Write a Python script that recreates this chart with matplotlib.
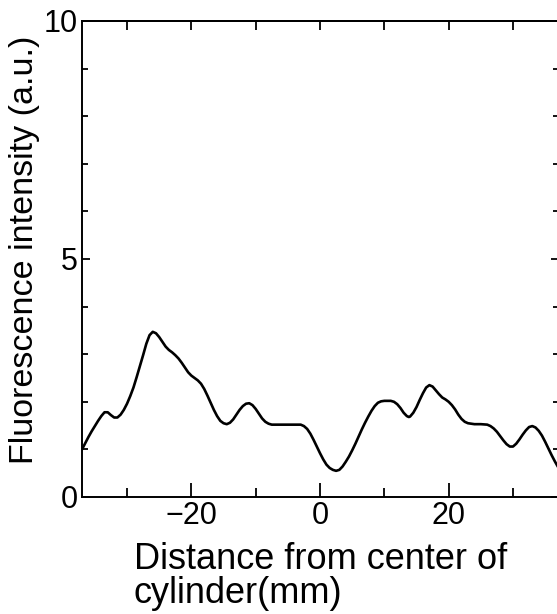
import matplotlib
matplotlib.use("Agg")
import matplotlib.pyplot as plt
from matplotlib.ticker import MultipleLocator, FixedLocator, NullFormatter

# Data
distance_mm = [-37, -36.5, -36, -35.5, -35, -34.5, -34, -33.5, -33, -32.5, -32, -31.5, -31,
               -30.5, -30, -29.5, -29, -28.5, -28, -27.5, -27, -26.5, -26, -25.5, -25,
               -24.5, -24, -23.5, -23, -22.5, -22, -21.5, -21, -20.5, -20, -19.5, -19,
               -18.5, -18, -17.5, -17, -16.5, -16, -15.5, -15, -14.5, -14, -13.5, -13,
               -12.5, -12, -11.5, -11, -10.5, -10, -9.5, -9, -8.5, -8, -7.5, -7, -3,
               -2.5, -2, -1.5, -1, -0.5, 0, 0.5, 1, 1.5, 2, 2.5, 3, 3.5, 4, 4.5, 5,
               5.5, 6, 6.5, 7, 7.5, 8, 8.5, 9, 9.5, 10, 11, 11.5, 12, 12.5, 13, 13.5,
               13.8, 14, 14.5, 15, 15.5, 16, 16.5, 17, 17.5, 18, 18.5, 19, 19.5, 20,
               20.5, 21, 21.5, 22, 22.5, 23, 24, 25, 26, 26.5, 27, 27.5, 28, 28.5, 29,
               29.5, 30, 30.5, 31, 31.5, 32, 32.5, 33, 33.5, 34, 34.5, 35, 35.5, 36,
               36.5, 37]
intensity = [1.00, 1.13, 1.26, 1.38, 1.49, 1.60, 1.70, 1.78, 1.78, 1.72, 1.67, 1.67, 1.73,
             1.83, 1.96, 2.12, 2.30, 2.52, 2.75, 2.98, 3.22, 3.40, 3.47, 3.44, 3.36,
             3.26, 3.16, 3.09, 3.04, 2.98, 2.91, 2.82, 2.72, 2.62, 2.55, 2.50, 2.45,
             2.38, 2.27, 2.13, 1.98, 1.83, 1.70, 1.60, 1.55, 1.53, 1.56, 1.63, 1.73,
             1.83, 1.91, 1.96, 1.97, 1.93, 1.85, 1.75, 1.65, 1.58, 1.54, 1.52, 1.52, 1.52,
             1.49, 1.43, 1.33, 1.20, 1.06, 0.92, 0.79, 0.68, 0.61, 0.57, 0.55, 0.57, 0.64, 0.74, 0.85, 0.98,
             1.12, 1.27, 1.42, 1.56, 1.69, 1.81, 1.91, 1.98, 2.01, 2.02, 2.02, 2.00, 1.95, 1.87, 1.77, 1.70,
             1.68, 1.69, 1.77, 1.89, 2.04, 2.18, 2.30, 2.35, 2.32, 2.24, 2.16, 2.09, 2.05, 2.00,
             1.93, 1.84, 1.73, 1.64, 1.58, 1.55, 1.53, 1.53, 1.52, 1.49, 1.44, 1.37, 1.28, 1.19, 1.11,
             1.06, 1.06, 1.12, 1.21, 1.31, 1.40, 1.47, 1.49, 1.46, 1.39, 1.29, 1.16, 1.02, 0.88,
             0.75, 0.63]

x_major_ticks = [-20, 0, 20]
x_major_labels = ["\u221220", "0", "20"]
x_minor_ticks = [-30, -10, 10, 30]
y_major_ticks = [0, 5, 10]
y_major_labels = ["0", "5", "10"]

plt.rcParams['font.family'] = ['Liberation Sans', 'DejaVu Sans']

W, H = 557, 614
fig = plt.figure(figsize=(W / 100, H / 100), dpi=100)
ax = fig.add_axes([82 / W, 117 / H, (559 - 82) / W, 476 / H])

ax.plot(distance_mm, intensity, color='black', linewidth=1.9,
        solid_joinstyle='round', solid_capstyle='round')

ax.set_xlim(-37, 37.15)
ax.set_ylim(0, 10)

for s in ax.spines.values():
    s.set_linewidth(1.4)

ax.xaxis.set_major_locator(FixedLocator(x_major_ticks))
ax.set_xticklabels(x_major_labels)
ax.xaxis.set_minor_locator(FixedLocator(x_minor_ticks))
ax.yaxis.set_major_locator(FixedLocator(y_major_ticks))
ax.set_yticklabels(y_major_labels)
ax.yaxis.set_minor_locator(MultipleLocator(1))

ax.tick_params(axis='x', which='major', direction='in', length=10, width=1.3,
               labelsize=22, pad=3, top=False)
ax.tick_params(axis='x', which='minor', direction='in', length=6.5, width=1.3, top=False)
ax.tick_params(axis='y', which='major', direction='in', length=6, width=1.3,
               labelsize=22, pad=3, right=True)
ax.tick_params(axis='y', which='minor', direction='in', length=4, width=1.3, right=True)

# top ticks: all equal length, every 10
top = ax.secondary_xaxis('top')
top.xaxis.set_major_locator(MultipleLocator(10))
top.xaxis.set_major_formatter(NullFormatter())
top.tick_params(direction='in', length=6.5, width=1.3)
top.spines['top'].set_linewidth(1.4)

ax.set_ylabel("Fluorescence intensity (a.u.)", fontsize=24.5, labelpad=3)
ax.yaxis.label.set_y(0.52)
ax.set_xlabel("Distance from center of\ncylinder(mm)", fontsize=26,
              multialignment='left', labelpad=8, linespacing=0.95)

fig.savefig("out.png", dpi=100)
